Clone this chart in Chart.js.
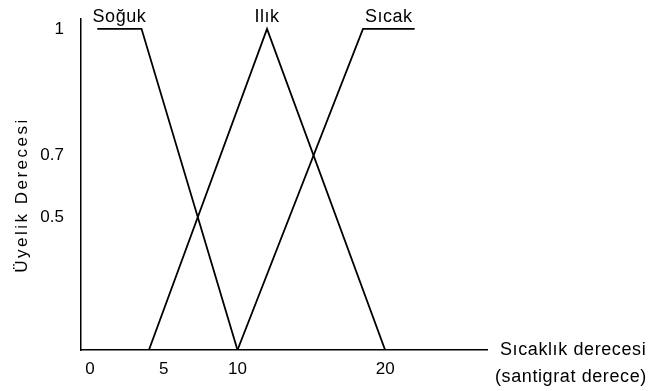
<!DOCTYPE html>
<html>
<head>
<meta charset="utf-8">
<script src="https://cdn.jsdelivr.net/npm/chart.js"></script>
<style>
  body { margin: 0; background: #fff; }
  canvas { display: block; }
</style>
</head>
<body>
<canvas id="fuzzyChart" width="659" height="391"></canvas>
<script>
// membership functions, x in degrees C, y in membership
const setNames = ['Soğuk', 'Ilık', 'Sıcak'];
const sogukX = [0.5, 3.5, 10];
const sogukY = [1, 1, 0];
const ilikX = [4, 12, 20];
const ilikY = [0, 1, 0];
const sicakX = [10, 18.5, 22];
const sicakY = [0, 1, 1];

const xTickValues = [0, 5, 10, 20];
const yTickLabels = ['0.5', '0.7', '1'];

const FONT = 'Arial, "Liberation Sans", sans-serif';

function toPoints(xs, ys) {
  return xs.map((x, i) => ({ x: x, y: ys[i] }));
}

// where two polylines cross (first hit), used to place the 0.5 / 0.7 marks
function crossing(ax, ay, bx, by) {
  for (let i = 0; i < ax.length - 1; i++) {
    for (let j = 0; j < bx.length - 1; j++) {
      const x1 = ax[i], y1 = ay[i], x2 = ax[i + 1], y2 = ay[i + 1];
      const x3 = bx[j], y3 = by[j], x4 = bx[j + 1], y4 = by[j + 1];
      const d = (x1 - x2) * (y3 - y4) - (y1 - y2) * (x3 - x4);
      if (!d) continue;
      const t = ((x1 - x3) * (y3 - y4) - (y1 - y3) * (x3 - x4)) / d;
      const u = -((x1 - x2) * (y1 - y3) - (y1 - y2) * (x1 - x3)) / d;
      if (t > 0 && t < 1 && u > 0 && u < 1) return y1 + t * (y2 - y1);
    }
  }
  return null;
}

const yTickValues = [
  crossing(sogukX, sogukY, ilikX, ilikY),
  crossing(ilikX, ilikY, sicakX, sicakY),
  1
];

// set names above the top of each curve + axis titles
const textPlugin = {
  id: 'fuzzyText',
  afterDraw(chart) {
    const ctx = chart.ctx;
    const xs = chart.scales.x, ys = chart.scales.y;
    ctx.save();
    ctx.fillStyle = '#000';
    ctx.letterSpacing = '0.5px';
    ctx.font = '18px ' + FONT;
    ctx.textAlign = 'center';
    ctx.textBaseline = 'alphabetic';
    chart.data.datasets.forEach((ds) => {
      const top = ds.data.filter(p => p.y === 1);
      const cx = top.reduce((s, p) => s + p.x, 0) / top.length;
      ctx.fillText(ds.label, xs.getPixelForValue(cx), ys.getPixelForValue(1) - 7);
    });

    ctx.textAlign = 'left';
    ctx.letterSpacing = '0.6px';
    ctx.fillText('Sıcaklık derecesi', chart.chartArea.right + 13, chart.chartArea.bottom + 5);
    ctx.fillText('(santigrat derece)', chart.chartArea.right + 8, chart.chartArea.bottom + 32);

    ctx.translate(22, 195);
    ctx.rotate(-Math.PI / 2);
    ctx.textAlign = 'center';
    ctx.textBaseline = 'middle';
    ctx.font = '17px ' + FONT;
    ctx.letterSpacing = '2.5px';
    ctx.fillText('Üyelik Derecesi', 0, 0);
    ctx.restore();
  }
};

const curves = [[sogukX, sogukY], [ilikX, ilikY], [sicakX, sicakY]];

new Chart(document.getElementById('fuzzyChart'), {
  type: 'line',
  data: {
    datasets: curves.map((c, i) => ({
      label: setNames[i],
      data: toPoints(c[0], c[1]),
      borderColor: '#000',
      borderWidth: 1.8,
      pointRadius: 0,
      fill: false,
      tension: 0
    }))
  },
  options: {
    responsive: false,
    animation: false,
    layout: { padding: { left: 0, right: 172, top: 19, bottom: 0 } },
    plugins: {
      legend: { display: false },
      tooltip: { enabled: false }
    },
    scales: {
      x: {
        type: 'linear',
        min: -0.6,
        max: 26.9,
        grid: { display: false },
        border: { color: '#000', width: 1.5 },
        ticks: {
          color: '#000',
          font: { family: FONT, size: 17 },
          padding: 1,
          autoSkip: false,
          maxRotation: 0,
          callback: (v) => String(v)
        },
        afterBuildTicks: (s) => { s.ticks = xTickValues.map(v => ({ value: v })); },
        afterFit: (s) => { s.height = 41; }
      },
      y: {
        min: 0,
        max: 1.03,
        grid: { display: false },
        border: { color: '#000', width: 1.5 },
        ticks: {
          color: '#000',
          font: { family: FONT, size: 17 },
          padding: 9,
          autoSkip: false,
          callback: (v, i) => yTickLabels[i]
        },
        afterBuildTicks: (s) => { s.ticks = yTickValues.map(v => ({ value: v })); },
        afterFit: (s) => { s.width = 81; }
      }
    }
  },
  plugins: [textPlugin]
});
</script>
</body>
</html>
